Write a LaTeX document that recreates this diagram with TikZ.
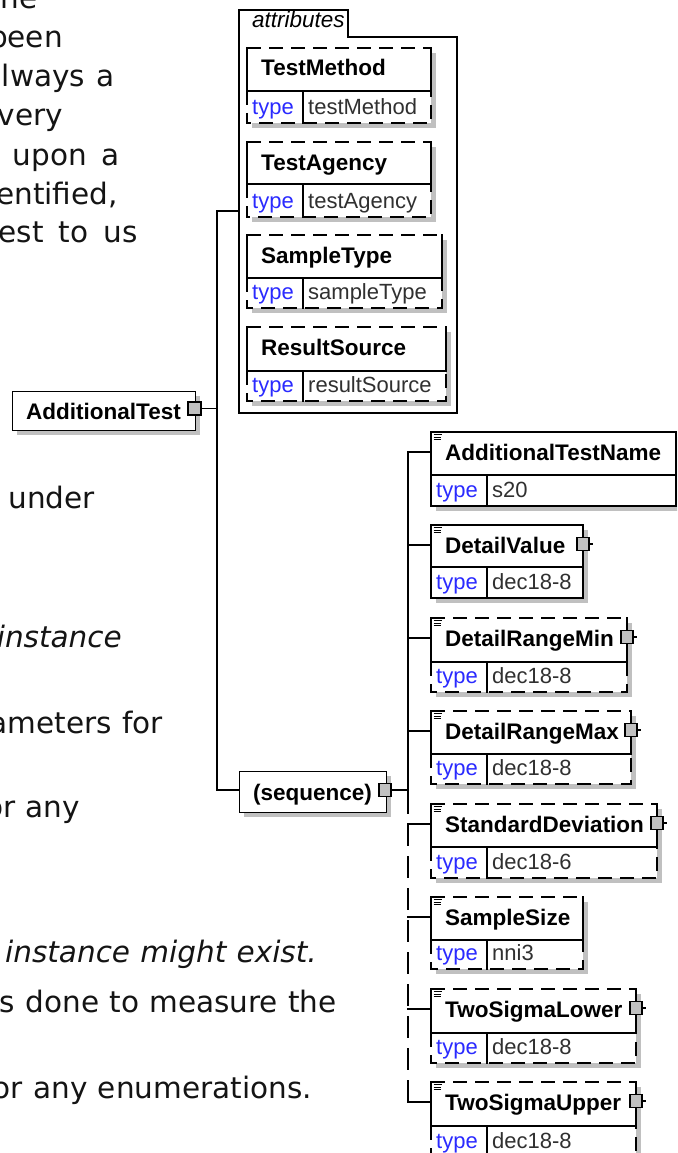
\documentclass[tikz,border=0pt]{standalone}
\usepackage{fontspec}
\setmainfont{DejaVu Sans}
\newfontfamily\arialf{Liberation Sans}
\newfontfamily\verdf[WordSpace=1.1]{DejaVu Sans}
\definecolor{shadowc}{HTML}{C0C0C0}
\definecolor{typeblue}{HTML}{2A2AFF}
\definecolor{valgray}{HTML}{303030}
\definecolor{expgray}{HTML}{C0C0C0}
\tikzset{
  x=1pt, y=-1pt,
  ln/.style={line width=1.2pt, black, line cap=rect},
  dsh/.style={line width=1.2pt, black, dash pattern=on 14pt off 8pt},
  busdash/.style={line width=1.2pt, black, dash pattern=on 22pt off 10pt},
  nametext/.style={font=\arialf\bfseries\fontsize{22.5}{26}\selectfont, inner sep=0, anchor=base west},
  typetext/.style={font=\arialf\fontsize{22}{26}\selectfont, text=typeblue, inner sep=0, anchor=base west},
  valtext/.style={font=\arialf\fontsize{22}{26}\selectfont, text=valgray, inner sep=0, anchor=base west},
  bodytext/.style={font=\verdf\fontsize{29.5}{34}\selectfont, text=black!92, inner sep=0, anchor=base east},
  bodyit/.style={font=\verdf\itshape\fontsize{29.5}{34}\selectfont, text=black!92, inner sep=0, anchor=base east},
  expander/.style={draw, line width=1.1pt, fill=expgray, minimum width=12pt, minimum height=13pt, inner sep=0},
}
% #1 edge style, #2 id, #3 L, #4 T, #5 R, #6 D, #7 B, #8 name, #9 value
\newcommand\elembox[9]{%
  \fill[shadowc] (#3+5,#4+5) rectangle (#5+5,#7+5);
  \fill[white] (#3,#4) rectangle (#5,#7);
  \draw[#1] (#3,#4) -- (#5,#4);
  \draw[ln] (#3,#4) -- (#3,#6) -- (#5,#6) -- (#5,#4);
  \draw[#1] (#3,#6) -- (#3,#7) -- (#5,#7) -- (#5,#6);
  \draw[ln] (#3+56,#6) -- (#3+56,#7);
  \node[nametext] (#2) at (#3+14,#4+28) {#8};
  \node[typetext] (#2-t) at (#3+5,#7-9) {type};
  \node[valtext] (#2-v) at (#3+61,#7-9) {#9};
  \coordinate (#2-in) at (#3,#4+20);
}
\newcommand\docicon[2]{%
  \fill[white] (#1+1,#2+1) rectangle (#1+11,#2+9);
  \draw[line width=0.8pt] (#1+2.5,#2+2.5) -- (#1+10.5,#2+2.5)
    (#1+2.5,#2+5) -- (#1+9.5,#2+5) (#1+2.5,#2+7.5) -- (#1+9.5,#2+7.5);
}
\newcommand\expnode[3]{%
  \node[expander] (#1) at (#2,#3) {};
  \draw[line width=1.1pt] (#1.east) -- ++(3,0);
}
\begin{document}
\begin{tikzpicture}
\useasboundingbox (0,0) rectangle (677,1153);
\clip (0,0) rectangle (677,1153);
\fill[white] (0,0) rectangle (677,1153);

% ---- body text fragments
\node[bodytext] (p1) at (38,9) {he};
\node[bodytext] (p2) at (63,48) {been};
\node[bodytext] (p3) at (115,87) {\hbox to 113pt{lways\hfill a}};
\node[bodytext] (p4) at (63,126) {very};
\node[bodytext] (p5) at (120,165) {\hbox to 107pt{upon\hfill a}};
\node[bodytext] (p6) at (118,204) {entified,};
\node[bodytext] (p7) at (138,242) {\hbox to 139pt{est\hfill to\hfill us}};
\node[bodytext] (p8) at (95,508) {under};
\node[bodyit] (p9) at (122,647) {instance};
\node[bodytext] (p10) at (163,733) {ameters for};
\node[bodytext] (p11) at (80,817) {or any};
\node[bodyit] (p12) at (317,962) {e instance might exist.};
\node[bodytext] (p13) at (337,1012) {s done to measure the};
\node[bodytext] (p14) at (312,1098) {or any enumerations.};

% ---- attributes group
\draw[ln, line cap=butt, line join=miter] (239,413) -- (239,10) -- (348,10) -- (348,37) -- (457,37) -- (457,413) -- cycle;
\node[font=\arialf\itshape\fontsize{22.5}{26}\selectfont, inner sep=0, anchor=base west] (attrlbl) at (252,28) {attributes};
\coordinate (attr-in) at (239,211);
\elembox{dsh}{tm}{247}{48}{431}{91}{123}{TestMethod}{testMethod}
\elembox{dsh}{ta}{247}{142}{431}{184}{217}{TestAgency}{testAgency}
\elembox{dsh}{st}{247}{235}{442}{278}{308}{SampleType}{sampleType}
\elembox{dsh}{rs}{247}{327}{446}{371}{401}{ResultSource}{resultSource}

% ---- AdditionalTest
\fill[shadowc] (17,396) rectangle (200,435);
\node[draw, ln, fill=white, minimum width=183pt, minimum height=39pt, inner sep=0, anchor=north west] (addt-box) at (12,391) {};
\node[nametext] (addt) at (26,419) {AdditionalTest};
\node[expander, minimum width=13pt] (addt-exp) at (194.5,408.5) {};
\coordinate (bus1a) at (217,211);
\coordinate (bus1m) at (217,408.5);
\coordinate (bus1b) at (217,790);

% ---- sequence
\fill[shadowc] (244,776) rectangle (391,817);
\node[draw, ln, fill=white, minimum width=147pt, minimum height=41pt, inner sep=0, anchor=north west] (seq-box) at (239,771) {};
\coordinate (seq-in) at (239,790);
\node[nametext] (seq) at (253,800) {(sequence)};
\node[expander] (seq-exp) at (385,790) {};
\coordinate (b2m) at (408,790);
\coordinate (b2s) at (408,813);
\coordinate (b2d) at (408,824);
\coordinate (b2e) at (408,1102);

\draw[ln] (addt-exp.east) -- (bus1m);
\draw[ln, line join=miter] (attr-in) -- (bus1a) -- (bus1b) -- (seq-in);
\draw[ln] (seq-exp.east) -- (b2m);

% ---- sequence children
\elembox{ln}{atn}{431}{432}{676}{475}{506}{AdditionalTestName}{s20}
\elembox{ln}{dv}{431}{525}{583}{567}{598}{DetailValue}{dec18-8}
\elembox{dsh}{drmin}{431}{618}{627}{662}{692}{DetailRangeMin}{dec18-8}
\elembox{dsh}{drmax}{431}{711}{631}{754}{784}{DetailRangeMax}{dec18-8}
\elembox{dsh}{sd}{431}{804}{657}{847}{878}{StandardDeviation}{dec18-6}
\elembox{dsh}{ss}{431}{897}{583}{940}{969}{SampleSize}{nni3}
\elembox{dsh}{tsl}{431}{989}{636}{1033}{1063}{TwoSigmaLower}{dec18-8}
\elembox{dsh}{tsu}{431}{1082}{636}{1126}{1157}{TwoSigmaUpper}{dec18-8}
\foreach \l/\t in {431/432,431/525,431/618,431/711,431/804,431/897,431/989,431/1082}{\docicon{\l}{\t}}
\expnode{dv-exp}{583}{544}
\expnode{drmin-exp}{627}{637}
\expnode{drmax-exp}{631}{730}
\expnode{sd-exp}{657}{823}
\expnode{tsl-exp}{636}{1008}
\expnode{tsu-exp}{636}{1101}

\draw[ln, line join=miter] (atn-in) -- (atn-in -| b2s) -- (b2s);
\foreach \e in {dv,drmin,drmax}{\draw[ln] (\e-in -| b2s) -- (\e-in);}
\draw[busdash] (b2d) -- (b2e);
\foreach \e in {sd,ss,tsl,tsu}{\draw[ln] (\e-in -| b2s) -- (\e-in);}
\end{tikzpicture}
\end{document}
